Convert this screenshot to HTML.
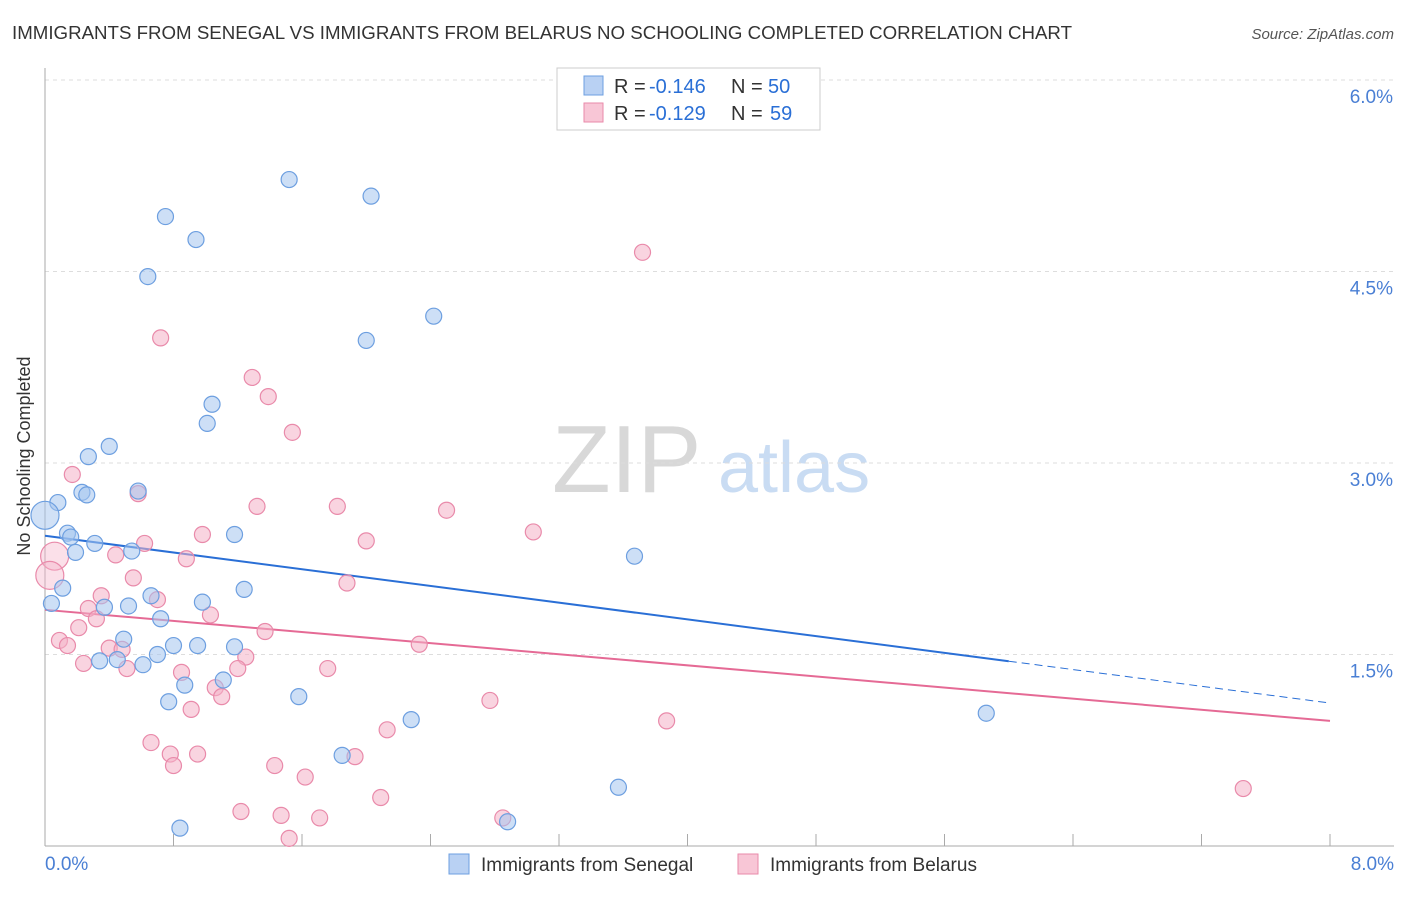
<!DOCTYPE html>
<html><head><meta charset="utf-8"><style>
body{margin:0;background:#fff;font-family:"Liberation Sans",sans-serif;}
svg text{font-family:"Liberation Sans",sans-serif;}
</style></head><body>
<svg id="chart" width="1406" height="892" xmlns="http://www.w3.org/2000/svg">
<text x="12" y="39" font-size="18" fill="#333" textLength="1060" lengthAdjust="spacingAndGlyphs">IMMIGRANTS FROM SENEGAL VS IMMIGRANTS FROM BELARUS NO SCHOOLING COMPLETED CORRELATION CHART</text>
<text x="1394" y="39" font-size="15" fill="#555" font-style="italic" text-anchor="end">Source: ZipAtlas.com</text>
<text x="30" y="456" font-size="18" fill="#333" text-anchor="middle" transform="rotate(-90 30 456)">No Schooling Completed</text>
<g><text x="552" y="492" font-size="96" fill="#d8d8d8" font-family="Liberation Serif,serif">ZIP</text><text x="718" y="492" font-size="72" fill="#c9dcf3">atlas</text></g>
<g id="grid"></g>
<g id="axes"></g>
<g id="lines"></g>
<g id="pts"></g>
<g>
<rect x="557" y="68" width="263" height="62" fill="#fff" stroke="#ccc"/>
<rect x="584" y="76" width="19" height="19" fill="#b9d1f3" stroke="#6d9fe0"/>
<text x="614" y="93" font-size="20" fill="#333">R =</text>
<text x="649" y="93" font-size="20" fill="#2a6fd6">-0.146</text>
<text x="731" y="93" font-size="20" fill="#333">N =</text>
<text x="768" y="93" font-size="20" fill="#2a6fd6">50</text>
<rect x="584" y="103" width="19" height="19" fill="#f8c6d6" stroke="#e98aaa"/>
<text x="614" y="120" font-size="20" fill="#333">R =</text>
<text x="649" y="120" font-size="20" fill="#2a6fd6">-0.129</text>
<text x="731" y="120" font-size="20" fill="#333">N =</text>
<text x="770" y="120" font-size="20" fill="#2a6fd6">59</text>
</g>
<g>
<rect x="449" y="854" width="20" height="20" fill="#b9d1f3" stroke="#6d9fe0"/>
<text x="481" y="871" font-size="19" fill="#333">Immigrants from Senegal</text>
<rect x="738" y="854" width="20" height="20" fill="#f8c6d6" stroke="#e98aaa"/>
<text x="770" y="871" font-size="19" fill="#333">Immigrants from Belarus</text>
</g>
</svg>
<script>
const yTicks=[1.5,3.0,4.5,6.0];
const yTickLabels=["1.5%","3.0%","4.5%","6.0%"];
const xTickLabels=["0.0%","8.0%"];
const blueX=[1.52,2.03,0.75,0.94,0.64,2.42,2.00,1.04,1.01,0.40,0.27,0.58,0.23,0.26,0.08,0.00,0.14,0.16,0.31,0.19,0.54,1.18,3.67,0.11,1.24,0.04,0.66,0.98,0.37,0.52,0.72,0.49,0.80,0.95,1.18,0.70,0.34,0.45,0.61,1.11,0.87,1.58,0.77,2.28,5.86,1.85,3.57,2.88,0.84];
const blueY=[5.22,5.09,4.93,4.75,4.46,4.15,3.96,3.46,3.31,3.13,3.05,2.78,2.77,2.75,2.69,2.59,2.45,2.42,2.37,2.30,2.31,2.44,2.27,2.02,2.01,1.90,1.96,1.91,1.87,1.88,1.78,1.62,1.57,1.57,1.56,1.50,1.45,1.46,1.42,1.30,1.26,1.17,1.13,0.99,1.04,0.71,0.46,0.19,0.14];
const pinkX=[3.72,0.72,1.29,1.39,1.54,0.17,0.58,1.32,1.82,2.50,3.04,0.98,0.62,2.00,0.06,0.44,0.88,0.03,0.55,1.88,0.35,0.70,0.27,1.03,0.32,0.21,1.37,0.09,0.14,2.33,0.40,0.48,1.25,0.24,0.51,1.20,1.76,0.85,1.06,1.10,2.77,0.91,3.87,2.13,0.66,0.78,0.95,1.93,0.80,1.43,1.62,2.09,1.22,1.47,1.71,2.85,1.52,7.46];
const pinkY=[4.65,3.98,3.67,3.52,3.24,2.91,2.76,2.66,2.66,2.63,2.46,2.44,2.37,2.39,2.27,2.28,2.25,2.12,2.10,2.06,1.96,1.93,1.86,1.81,1.78,1.71,1.68,1.61,1.57,1.58,1.55,1.54,1.48,1.43,1.39,1.39,1.39,1.36,1.24,1.17,1.14,1.07,0.98,0.91,0.81,0.72,0.72,0.70,0.63,0.63,0.54,0.38,0.27,0.24,0.22,0.22,0.06,0.45];
const bigBlue=[15];const bigPink=[14,17];
const blueTrend=[2.43,1.12];const pinkTrend=[1.85,0.98];
const NS="http://www.w3.org/2000/svg";
const sx=v=>45+v/8*1285, sy=v=>846-v*127.67;
function mk(tag,attrs,parent){const e=document.createElementNS(NS,tag);for(const k in attrs)e.setAttribute(k,attrs[k]);parent.appendChild(e);return e;}
const grid=document.getElementById('grid'),axes=document.getElementById('axes');
yTicks.forEach((t,i)=>{
 const l=mk('line',{x1:45,x2:1394,y1:sy(t),y2:sy(t),stroke:'#ddd','stroke-dasharray':'4,4'},grid);
 
 
 const tx=mk('text',{x:1393,y:sy(t)+23,'font-size':19,fill:'#4a7fd4','text-anchor':'end'},axes);tx.textContent=yTickLabels[i];
 
 
});
mk('line',{x1:45,x2:1394,y1:80,y2:80,stroke:'#ddd','stroke-dasharray':'4,4'},grid);
mk('line',{x1:45,x2:45,y1:68,y2:846,stroke:'#aaa'},axes);
mk('line',{x1:45,x2:1394,y1:846,y2:846,stroke:'#aaa'},axes);
for(let i=0;i<=10;i++){const x=sx(i*0.8);const t=mk('line',{x1:x,x2:x,y1:846,y2:834,stroke:'#aaa'},axes);
 
 }
[[0,'start',45],[8,'end',1394]].forEach((d,i)=>{const t=mk('text',{x:d[2],y:870,'font-size':19,fill:'#4a7fd4','text-anchor':d[1]},axes);t.textContent=xTickLabels[i];
 
 });
const pts=document.getElementById('pts');
function drawPts(X,Y,big,fill,stroke,name,bigOp){X.forEach((x,i)=>{const isBig=big.includes(i);const c=mk('circle',{cx:sx(x),cy:sy(Y[i]),r:isBig?14:8,fill:fill,'fill-opacity':isBig?bigOp:0.55,stroke:stroke,'stroke-width':1.2},pts);
 
 });}
drawPts(pinkX,pinkY,bigPink,'#f4b1c7','#e98aaa','belarus-point',0.4);
drawPts(blueX,blueY,bigBlue,'#a4c4ee','#6d9fe0','senegal-point',0.5);
const lines=document.getElementById('lines');
const slopeB=(blueTrend[1]-blueTrend[0])/8;
const bl=mk('line',{x1:sx(0),y1:sy(blueTrend[0]),x2:sx(6),y2:sy(blueTrend[0]+slopeB*6),stroke:'#2a6fd6','stroke-width':2},lines);


const bd=mk('line',{x1:sx(6),y1:sy(blueTrend[0]+slopeB*6),x2:sx(8),y2:sy(blueTrend[1]),stroke:'#2a6fd6','stroke-width':1,'stroke-dasharray':'8,5'},lines);


const pl=mk('line',{x1:sx(0),y1:sy(pinkTrend[0]),x2:sx(8),y2:sy(pinkTrend[1]),stroke:'#e56a95','stroke-width':2},lines);


</script>
</body></html>
